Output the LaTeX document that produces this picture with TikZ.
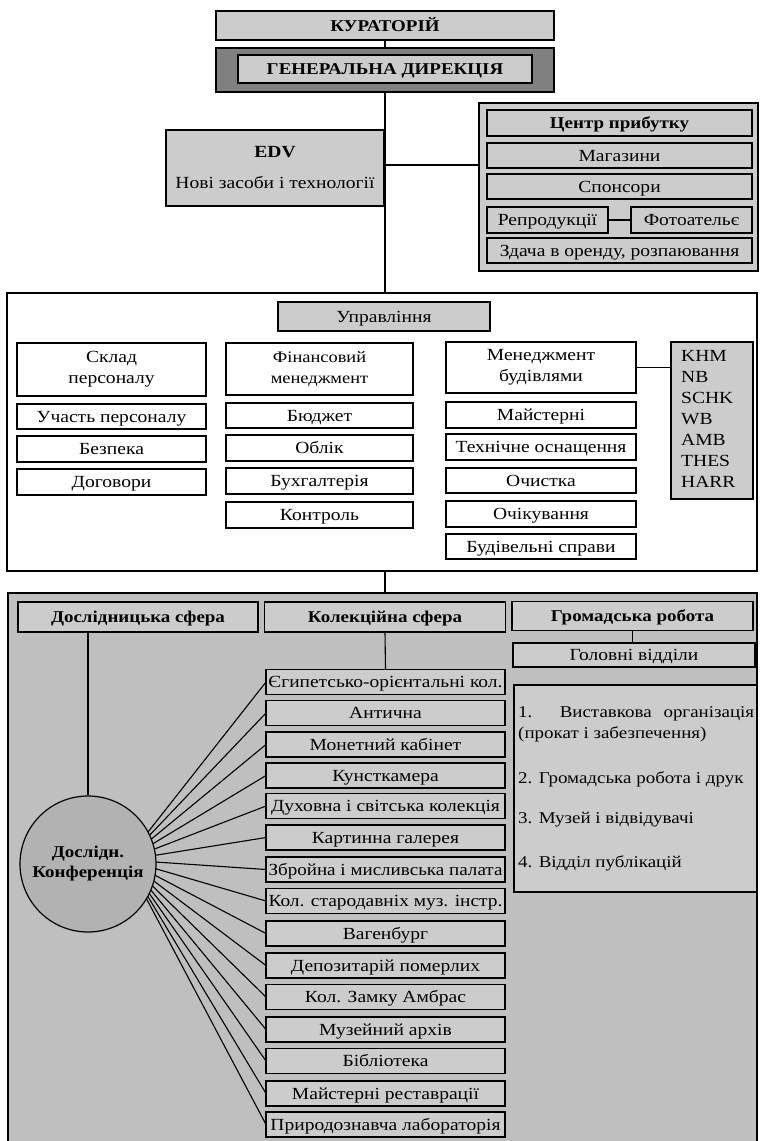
\documentclass[tikz,border=0pt]{standalone}
\usepackage{fontspec}
\usepackage{graphicx}
\setmainfont{Liberation Serif}[FakeStretch=1.15]
\definecolor{lg}{gray}{0.80}
\definecolor{mg}{gray}{0.75}
\definecolor{dg}{gray}{0.50}
\definecolor{cg}{gray}{0.70}
\newcommand\fs{\fontsize{17}{21}\selectfont}
\newcommand\fsb{\fontsize{16.5}{21}\selectfont\bfseries}
\newcommand\fitw[1]{\resizebox{\ifdim\width>234pt 234pt\else\width\fi}{\height}{#1}}
\begin{document}
\begin{tikzpicture}[x=1pt,y=-1pt,
  box/.style={draw, line width=1.2pt, inner sep=0pt, outer sep=0pt, align=center, font=\fs},
  one/.style={text height=13pt, text depth=1.7pt},
  gbox/.style={box, fill=lg},
  wbox/.style={box, fill=white},
  hd/.style={font=\fsb},
  frame/.style={draw, line width=1.2pt, inner sep=0pt, outer sep=0pt},
  conn/.style={line width=1.1pt},
  txt/.style={inner sep=0pt, font=\fontsize{16.5}{21}\selectfont}]
\useasboundingbox (0,0) rectangle (760,1141);

% ---------- top ----------
\node[gbox, one, hd, minimum width=338, minimum height=29] (kur) at (385,25.5) {КУРАТОРІЙ};
\node[box, fill=dg, minimum width=338, minimum height=44] (genout) at (385,70) {};
\node[gbox, one, hd, minimum width=294, minimum height=28] (gen) at (385,69) {ГЕНЕРАЛЬНА ДИРЕКЦІЯ};
\draw[conn] (kur.south) -- (genout.north);

\node[gbox, minimum width=218, minimum height=76] (edv) at (275,168) {\textbf{EDV}\\[10pt]Нові засоби і технології};

\node[gbox, minimum width=279, minimum height=168] (grp) at (618.5,187) {};
\node[gbox, one, hd, minimum width=265, minimum height=26] (cp) at (619.5,123) {Центр прибутку};
\node[gbox, one, minimum width=265, minimum height=25] (mag) at (619.5,155.5) {Магазини};
\node[gbox, one, minimum width=265, minimum height=25] (spo) at (619.5,186.5) {Спонсори};
\node[gbox, one, minimum width=121, minimum height=26] (rep) at (547.5,220) {Репродукції};
\node[gbox, one, minimum width=121, minimum height=26] (foto) at (691.5,220) {Фотоательє};
\node[gbox, one, minimum width=265, minimum height=25] (zd) at (619.5,250.5) {Здача в оренду, розпаювання};
\draw[conn] (rep.east) -- (foto.west);

% ---------- management frame ----------
\node[frame, minimum width=750, minimum height=278] (upf) at (382,432) {};
\draw[conn] (genout.south) -- (genout.south |- upf.north);
\coordinate (j1) at (385,165);
\draw[conn] (j1) -- (j1 -| grp.west);

\node[gbox, one, minimum width=212, minimum height=29] (upr) at (384,316.5) {Управління};

\node[wbox, minimum width=189, minimum height=53] (skl) at (111.5,369.5) {Склад\\персоналу};
\node[wbox, one, minimum width=189, minimum height=25] (uch) at (111.5,416.5) {Участь персоналу};
\node[wbox, one, minimum width=189, minimum height=26] (bez) at (111.5,449) {Безпека};
\node[wbox, one, minimum width=189, minimum height=26] (dog) at (111.5,482) {Договори};

\node[wbox, font=\fontsize{16}{21}\selectfont, minimum width=187, minimum height=52] (fin) at (319.5,369) {Фінансовий\\менеджмент};
\node[wbox, one, minimum width=187, minimum height=25] (bud) at (319.5,415.5) {Бюджет};
\node[wbox, one, minimum width=187, minimum height=26] (obl) at (319.5,448) {Облік};
\node[wbox, one, minimum width=187, minimum height=26] (buh) at (319.5,481) {Бухгалтерія};
\node[wbox, one, minimum width=187, minimum height=26] (kon) at (319.5,515) {Контроль};

\node[wbox, minimum width=190, minimum height=51] (mb) at (541,367.5) {Менеджмент\\будівлями};
\node[wbox, one, minimum width=190, minimum height=26] (may) at (541,415) {Майстерні};
\node[wbox, one, minimum width=190, minimum height=26] (teh) at (541,447) {Технічне оснащення};
\node[wbox, one, minimum width=190, minimum height=25] (och) at (541,480.5) {Очистка};
\node[wbox, one, minimum width=190, minimum height=26] (ochk) at (541,514) {Очікування};
\node[wbox, one, minimum width=190, minimum height=25] (bsp) at (541,546.5) {Будівельні справи};

\node[gbox, minimum width=82, minimum height=157] (khm) at (712,420.5) {};
\node[inner sep=0pt, anchor=west, align=left, font=\fs] (khmt) at (681,419) {KHM\\NB\\SCHK\\WB\\AMB\\THES\\HARR};
\draw[conn] (mb.east) -- (mb.east -| khm.west);

% ---------- lower frame ----------
\fill[mg] (8,593) rectangle (757,1141);
\draw[line width=1.2pt] (8,1141) -- (8,593) -- (757,593) -- (757,1141);
\coordinate (lotop) at (385,593);
\draw[conn] (upf.south -| lotop) -- (lotop);

\node[gbox, one, hd, minimum width=240, minimum height=30] (dosl) at (138,617) {Дослідницька сфера};
\node[gbox, one, hd, minimum width=241, minimum height=30] (kol) at (385,617) {Колекційна сфера};
\node[gbox, one, hd, minimum width=241, minimum height=29] (grom) at (632.5,616) {Громадська робота};
\node[gbox, one, minimum width=242, minimum height=24] (gol) at (634,655) {Головні відділи};
\draw[conn] (grom.south) -- (grom.south |- gol.north);

\node[gbox, minimum width=243, minimum height=207] (lst) at (635.5,788.5) {};
\node[txt, anchor=north west, text width=236, align=justify] (l1) at (518,706) {1. Виставкова організація (прокат і забезпечення)};
\node[txt, anchor=west] (l2) at (518,779) {2. Громадська робота і друк};
\node[txt, anchor=west] (l3) at (518,820) {3. Музей і відвідувачі};
\node[txt, anchor=west] (l4) at (518,863) {4. Відділ публікацій};

\foreach \nm/\yy/\tx in {
  c1/682/{Єгипетсько-орієнтальні кол.},
  c2/713/{Антична},
  c3/744.5/{Монетний кабінет},
  c4/775.5/{Кунсткамера},
  c5/806/{Духовна і світська колекція},
  c6/837.5/{Картинна галерея},
  c7/869.5/{Збройна і мисливська палата},
  c8/901/{Кол. стародавніх муз. інстр.},
  c9/933.5/{Вагенбург},
  c10/965.5/{Депозитарій померлих},
  c11/997/{Кол. Замку Амбрас},
  c12/1029.5/{Музейний архів},
  c13/1061/{Бібліотека},
  c14/1093.5/{Майстерні реставрації},
  c15/1124.5/{Природознавча лабораторія}}
  {\node[gbox, one, minimum width=239, minimum height=25] (\nm) at (385.5,\yy) {\fitw{\tx}};}

\draw[conn] (kol.south) -- (c1.north);

\coordinate (foc) at (126,860);
\foreach \nm in {c1,c2,c3,c4,c5,c6,c7,c8,c9,c10,c11,c12,c13,c14,c15}
  \draw[conn] (foc) -- (\nm.west);

\node[circle, draw, fill=cg, line width=1.2pt, minimum size=136, inner sep=0pt, align=center, font=\fontsize{16.5}{20}\selectfont\bfseries] (circ) at (88,864) {Дослідн.\\Конференція};
\draw[conn] (dosl.south -| circ.north) -- (circ.north);
\end{tikzpicture}
\end{document}
